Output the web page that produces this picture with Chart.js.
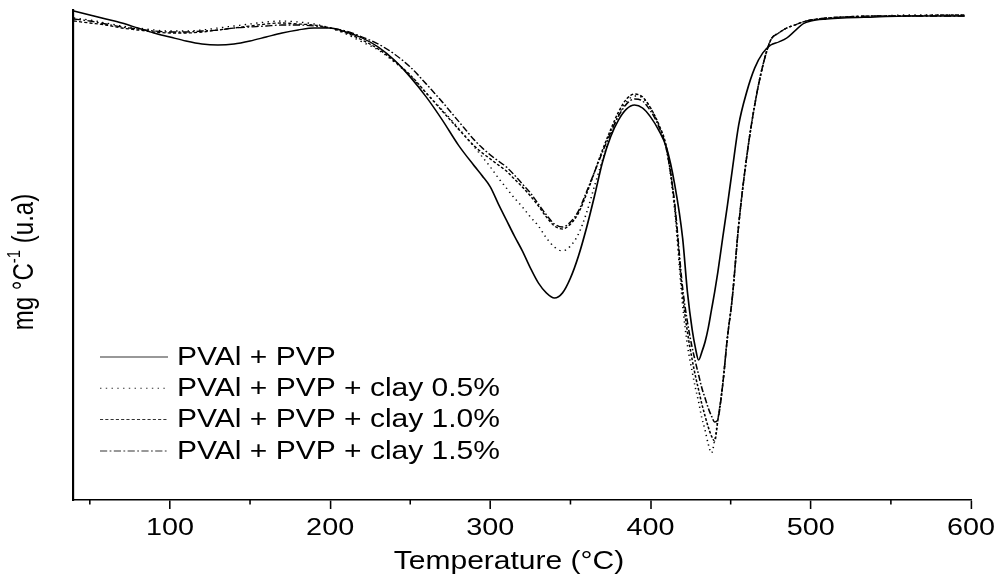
<!DOCTYPE html>
<html>
<head>
<meta charset="utf-8">
<script src="https://cdn.jsdelivr.net/npm/chart.js@4.4.1/dist/chart.umd.min.js"></script>
<style>
  html, body { margin: 0; padding: 0; background: #fff; }
  canvas { display: block; }
</style>
</head>
<body>
<canvas id="dtgChart" width="1000" height="578"></canvas>
<script>
// DTG curves (arbitrary units, baseline ~ 0)
const temperature = [40, 50, 60, 70, 80, 90, 100, 110, 120, 130, 140, 150, 160, 170, 180, 190, 200, 210, 220, 230,
    240, 250, 260, 270, 280, 290, 295, 300, 305, 310, 315, 320, 325, 330, 335, 340, 345, 350, 355, 360,
    365, 370, 375, 380, 385, 390, 395, 400, 405, 410, 415, 420, 423, 426, 428, 430, 432, 434, 436, 438,
    440, 442, 445, 448, 451, 455, 460, 465, 470, 475, 480, 485, 490, 495, 500, 510, 520, 540, 560, 580, 596];

const pvalPvp = [0.04, 0.00, -0.04, -0.08, -0.13, -0.18, -0.22, -0.26, -0.29, -0.30,
    -0.29, -0.26, -0.22, -0.18, -0.15, -0.13, -0.13, -0.17, -0.23, -0.32,
    -0.45, -0.62, -0.82, -1.05, -1.30, -1.51,
    -1.61, -1.72, -1.89, -2.05, -2.21, -2.36, -2.53, -2.68, -2.78, -2.83,
    -2.78, -2.63, -2.41, -2.13, -1.81, -1.47, -1.22, -1.05, -0.94, -0.90,
    -0.93, -1.02,
    -1.15, -1.33, -1.69, -2.23,
    -2.77, -3.15,
    -3.33, -3.45, -3.37, -3.27, -3.13, -2.95, -2.77, -2.57,
    -2.23, -1.90, -1.55,
    -1.10, -0.77, -0.53, -0.38, -0.30, -0.27, -0.23, -0.16, -0.09, -0.06,
    -0.04, -0.03, -0.02, -0.01, -0.01, -0.01];

const clay05 = [-0.03, -0.05, -0.08, -0.11, -0.13, -0.15, -0.16, -0.16, -0.15, -0.13,
    -0.11, -0.09, -0.07, -0.06, -0.07, -0.09, -0.13, -0.19, -0.27, -0.35,
    -0.47, -0.61, -0.78, -0.95, -1.13, -1.32,
    -1.42, -1.52, -1.63, -1.73, -1.83, -1.92, -2.02, -2.11, -2.23, -2.32,
    -2.36, -2.31, -2.19, -1.98, -1.71, -1.45, -1.20, -1.00, -0.87, -0.81,
    -0.83, -0.93,
    -1.10, -1.35, -1.95, -2.90,
    -3.30, -3.57,
    -3.73, -3.87, -4.03, -4.15, -4.29, -4.38, -4.25, -4.05,
    -3.70, -3.22, -2.83,
    -2.10, -1.42, -0.90, -0.51, -0.25, -0.18, -0.13, -0.10, -0.07, -0.05,
    -0.03, -0.02, -0.01, 0.00, 0.00, 0.00];

const clay10 = [-0.06, -0.08, -0.10, -0.13, -0.15, -0.17, -0.18, -0.18, -0.17, -0.15,
    -0.13, -0.11, -0.09, -0.08, -0.09, -0.10, -0.13, -0.18, -0.25, -0.34,
    -0.46, -0.60, -0.78, -0.96, -1.14, -1.31,
    -1.38, -1.44, -1.50, -1.56, -1.64, -1.72, -1.81, -1.91, -2.02, -2.11,
    -2.14, -2.09, -1.98, -1.79, -1.57, -1.35, -1.15, -0.97, -0.84, -0.79,
    -0.82, -0.93,
    -1.09, -1.33, -1.90, -2.80,
    -3.17, -3.45,
    -3.61, -3.75, -3.89, -4.01, -4.12, -4.21, -4.26, -4.05,
    -3.70, -3.22, -2.83,
    -2.10, -1.42, -0.90, -0.51, -0.25, -0.18, -0.13, -0.10, -0.07, -0.05,
    -0.03, -0.02, -0.01, -0.01, 0.00, 0.00];

const clay15 = [-0.04, -0.06, -0.09, -0.12, -0.14, -0.16, -0.17, -0.17, -0.16, -0.15,
    -0.13, -0.12, -0.11, -0.10, -0.10, -0.11, -0.13, -0.16, -0.22, -0.29,
    -0.39, -0.52, -0.69, -0.87, -1.06, -1.25,
    -1.33, -1.40, -1.46, -1.52, -1.60, -1.69, -1.78, -1.89, -2.00, -2.09,
    -2.12, -2.07, -1.96, -1.77, -1.57, -1.37, -1.18, -1.01, -0.89, -0.84,
    -0.86, -0.96,
    -1.11, -1.35, -1.88, -2.73,
    -3.07, -3.33,
    -3.47, -3.60, -3.73, -3.83, -3.93, -4.01, -4.07, -4.04,
    -3.70, -3.22, -2.83,
    -2.10, -1.42, -0.90, -0.51, -0.25, -0.18, -0.13, -0.10, -0.07, -0.05,
    -0.03, -0.02, -0.01, -0.01, -0.01, -0.01];

const seriesLabels = ['PVAl + PVP', 'PVAl + PVP + clay 0.5%', 'PVAl + PVP + clay 1.0%', 'PVAl + PVP + clay 1.5%'];
const xMajorTicks = [100, 200, 300, 400, 500, 600];
const xMinorTicks = [50, 150, 250, 350, 450, 550];

// line styles for each series
const seriesDash = [[], [1.2, 3.6], [2.6, 1.8], [6, 2, 1.5, 2]];
const seriesWidth = [1.4, 1.3, 1.3, 1.3];

// the original figure is stretched sideways, so everything is drawn with the same stretch
const STRETCH = 1.2;
const FONT = '"Liberation Sans", Arial, sans-serif';

const extrasPlugin = {
    id: 'extras',
    beforeDraw(chart) {
        chart.ctx.save();
        chart.ctx.scale(STRETCH, 1);
    },
    afterDraw(chart) {
        const ctx = chart.ctx;
        const area = chart.chartArea;
        const xScale = chart.scales.x;

        // short minor ticks under the axis
        ctx.strokeStyle = '#000';
        ctx.lineWidth = 1.3;
        xMinorTicks.forEach(v => {
            const x = xScale.getPixelForValue(v);
            ctx.beginPath();
            ctx.moveTo(x, area.bottom);
            ctx.lineTo(x, area.bottom + 4.5);
            ctx.stroke();
        });

        // legend inside the plot, bottom left
        ctx.font = '25px ' + FONT;
        ctx.fillStyle = '#000';
        ctx.textAlign = 'left';
        ctx.textBaseline = 'middle';
        chart.data.datasets.forEach((ds, i) => {
            const y = 357 + i * 31.3;
            ctx.beginPath();
            ctx.setLineDash(ds.borderDash);
            ctx.lineWidth = 1;
            ctx.strokeStyle = '#333';
            ctx.moveTo(100 / STRETCH, y);
            ctx.lineTo(168 / STRETCH, y);
            ctx.stroke();
            ctx.setLineDash([]);
            ctx.fillText(ds.label, 177 / STRETCH, y + 1);
        });

        // x axis title
        ctx.textAlign = 'center';
        ctx.fillText('Temperature (°C)', 509 / STRETCH, 562);

        // y axis title with superscript
        ctx.save();
        ctx.translate(25 / STRETCH, 262);
        ctx.rotate(-Math.PI / 2);
        const parts = [['mg °C', '24px ' + FONT, 0], ['-1', '15px ' + FONT, -8], [' (u.a)', '24px ' + FONT, 0]];
        let total = 0;
        parts.forEach(p => { ctx.font = p[1]; total += ctx.measureText(p[0]).width; });
        let x = -total / 2;
        ctx.textAlign = 'left';
        parts.forEach(p => {
            ctx.font = p[1];
            ctx.fillText(p[0], x, p[2]);
            x += ctx.measureText(p[0]).width;
        });
        ctx.restore();

        ctx.restore();
    }
};

const seriesValues = [pvalPvp, clay05, clay10, clay15];

new Chart(document.getElementById('dtgChart'), {
    type: 'line',
    data: {
        datasets: seriesValues.map((vals, i) => ({
            label: seriesLabels[i],
            data: temperature.map((t, j) => ({ x: t, y: vals[j] })),
            borderColor: '#000',
            borderWidth: seriesWidth[i],
            borderDash: seriesDash[i],
            pointRadius: 0,
            fill: false,
            cubicInterpolationMode: 'monotone'
        }))
    },
    options: {
        responsive: false,
        animation: false,
        layout: { padding: { top: 10, left: 0, bottom: 0, right: 1000 - 971 / STRETCH } },
        plugins: { legend: { display: false }, tooltip: { enabled: false } },
        scales: {
            x: {
                type: 'linear',
                min: 39.5,
                max: 600,
                afterBuildTicks(scale) { scale.ticks = xMajorTicks.map(v => ({ value: v })); },
                afterFit(scale) { scale.height = 78; },
                grid: { display: true, drawOnChartArea: false, tickLength: 9, tickWidth: 1.3, tickColor: '#000' },
                border: { display: true, color: '#000', width: 1.6 },
                ticks: { color: '#000', padding: 5, maxRotation: 0, font: { family: FONT, size: 24 } }
            },
            y: {
                min: -4.85,
                max: 0.05,
                afterFit(scale) { scale.width = 73 / STRETCH; },
                grid: { display: true, drawOnChartArea: false, drawTicks: false },
                border: { display: true, color: '#000', width: 1.8 },
                ticks: { display: false }
            }
        }
    },
    plugins: [extrasPlugin]
});
</script>
</body>
</html>
